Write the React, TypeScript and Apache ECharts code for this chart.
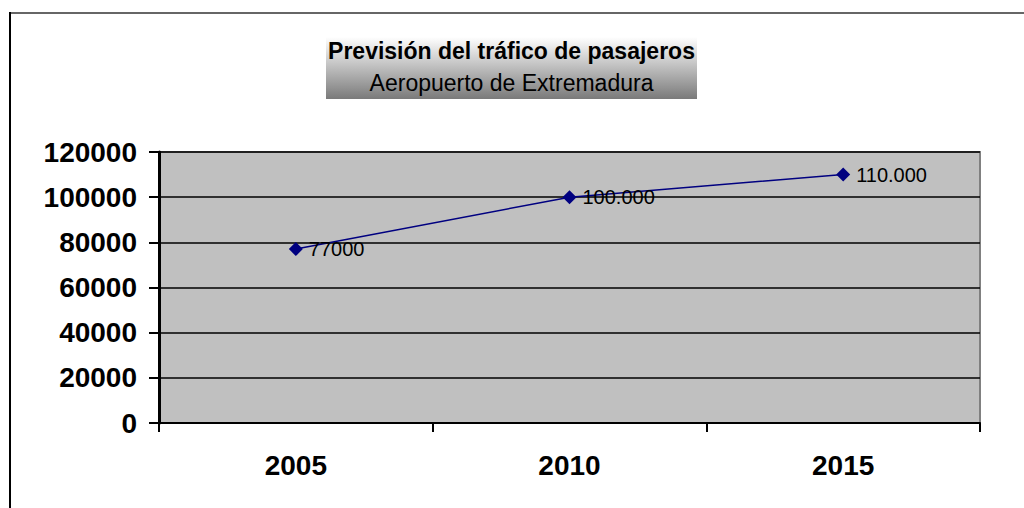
import React, { useEffect, useRef } from "react";
import * as echarts from "echarts";

const categories = ["2005", "2010", "2015"];
const values = [77000, 100000, 110000];
const valueLabels = ["77000", "100.000", "110.000"];
const titleLines = ["Previsión del tráfico de pasajeros", "Aeropuerto de Extremadura"];

const FONT = "'Liberation Sans', Arial, sans-serif";

export default function App() {
  const ref = useRef<HTMLDivElement>(null);
  useEffect(() => {
    if (!ref.current) return;
    const chart = echarts.init(ref.current, undefined, { renderer: "svg" });
    chart.setOption({
      animation: false,
      backgroundColor: "#ffffff",
      textStyle: { fontFamily: FONT },
      grid: {
        left: 159,
        right: 44,
        top: 152,
        bottom: 85,
        show: true,
        backgroundColor: "#c0c0c0",
        borderColor: "#808080",
        borderWidth: 2,
      },
      xAxis: {
        type: "category",
        data: categories,
        boundaryGap: true,
        axisLine: { show: true, onZero: false, lineStyle: { color: "#000", width: 2 } },
        axisTick: { show: true, length: 9, lineStyle: { color: "#000", width: 2 } },
        axisLabel: {
          color: "#000",
          fontWeight: "bold",
          fontSize: 28,
          fontFamily: FONT,
          margin: 28,
        },
        splitLine: { show: false },
      },
      yAxis: {
        type: "value",
        min: 0,
        max: 120000,
        interval: 20000,
        axisLine: { show: true, lineStyle: { color: "#000", width: 3 } },
        axisTick: { show: true, length: 10, lineStyle: { color: "#000", width: 2 } },
        axisLabel: {
          color: "#000",
          fontWeight: "bold",
          fontSize: 28,
          fontFamily: FONT,
          margin: 22,
          formatter: (v: number) => String(v),
        },
        splitLine: { show: true, lineStyle: { color: "#000", width: 1.5 } },
      },
      series: [
        {
          type: "line",
          data: values,
          symbol: "diamond",
          symbolSize: 14,
          itemStyle: { color: "#000080" },
          lineStyle: { color: "#000080", width: 1.5 },
          label: {
            show: true,
            position: "right",
            distance: 6,
            color: "#000",
            fontSize: 20,
            fontFamily: FONT,
            formatter: (p: any) => valueLabels[p.dataIndex],
          },
        },
      ],
      graphic: [
        {
          type: "line",
          shape: { x1: 10, y1: 13, x2: 1024, y2: 13 },
          style: { stroke: "#666", lineWidth: 2 },
        },
        {
          type: "line",
          shape: { x1: 10, y1: 12, x2: 10, y2: 508 },
          style: { stroke: "#000", lineWidth: 2 },
        },
        {
          type: "rect",
          shape: { x: 326, y: 37, width: 371, height: 62 },
          style: {
            fill: new echarts.graphic.LinearGradient(0, 0, 0, 1, [
              { offset: 0, color: "#ffffff" },
              { offset: 1, color: "#7a7a7a" },
            ]),
          },
        },
        {
          type: "text",
          x: 511.5,
          y: 51,
          style: {
            text: titleLines[0],
            fill: "#000",
            font: `bold 23px ${FONT}`,
            align: "center",
            verticalAlign: "middle",
          },
        },
        {
          type: "text",
          x: 511.5,
          y: 83,
          style: {
            text: titleLines[1],
            fill: "#000",
            font: `23px ${FONT}`,
            align: "center",
            verticalAlign: "middle",
          },
        },
      ],
    });
    return () => chart.dispose();
  }, []);
  return (
    <div
      ref={ref}
      style={{ position: "fixed", left: 0, top: 0, width: 1024, height: 508 }}
    />
  );
}
